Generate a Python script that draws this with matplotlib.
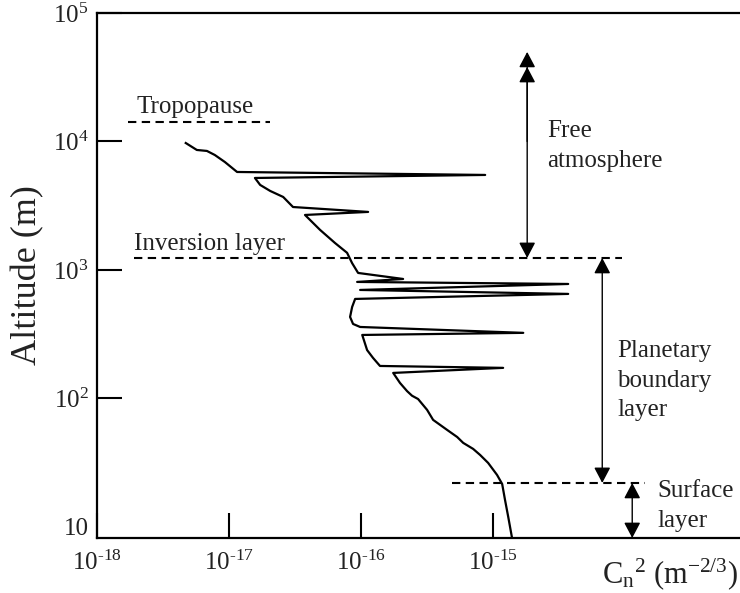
import matplotlib
matplotlib.use("Agg")
import matplotlib.pyplot as plt
from matplotlib.ticker import FixedLocator, NullLocator

plt.rcParams['font.family'] = 'serif'
plt.rcParams['font.serif'] = ['Liberation Serif', 'DejaVu Serif']
plt.rcParams['mathtext.fontset'] = 'custom'
plt.rcParams['mathtext.rm'] = 'Liberation Serif'
plt.rcParams['mathtext.it'] = 'Liberation Serif:italic'

# Cn^2 profile (m^-2/3) against altitude (m), read top to bottom
cn2 = [4.7e-18, 5.7e-18, 6.8e-18, 7.8e-18, 9.3e-18, 1.15e-17, 8.7e-16, 1.57e-17,
       1.72e-17, 2.05e-17, 2.57e-17, 3.05e-17, 1.13e-16, 3.76e-17, 4.89e-17, 6.35e-17,
       7.83e-17, 8.55e-17, 9.49e-17, 2.08e-16, 9.33e-17, 3.7e-15, 9.83e-17, 3.7e-15,
       9.01e-17, 8.55e-17, 8.25e-17, 8.69e-17, 9.83e-17, 1.69e-15, 1.02e-16, 1.11e-16,
       1.23e-16, 1.39e-16, 1.19e-15, 1.75e-16, 1.97e-16, 2.23e-16, 2.43e-16, 2.70e-16,
       3.16e-16, 3.51e-16, 3.97e-16, 4.48e-16, 5.34e-16, 5.93e-16, 7.05e-16, 7.97e-16,
       9.16e-16, 1.07e-15, 1.17e-15, 1.23e-15, 1.30e-15, 1.39e-15]
alt = [9730, 8590, 8440, 7850, 6920, 5790, 5490, 5200,
       4590, 4120, 3700, 3090, 2830, 2680, 2050, 1620,
       1360, 1130, 948, 851, 807, 778, 699, 651,
       595, 515, 431, 380, 360, 324, 312, 238,
       207, 179, 173, 158, 132, 114, 105, 99,
       81.5, 68.1, 62.2, 56.9, 50.1, 45.1, 40.5, 36.3,
       31.5, 25.4, 21.6, 16.2, 12.0, 8.2]

x_ticks = [1e-18, 1e-17, 1e-16, 1e-15]
x_tick_labels = [r'$\mathregular{10^{\text{-}18}}$', r'$\mathregular{10^{\text{-}17}}$',
                 r'$\mathregular{10^{\text{-}16}}$', r'$\mathregular{10^{\text{-}15}}$']
y_ticks = [1e1, 1e2, 1e3, 1e4, 1e5]
y_tick_labels = ['10', r'$\mathregular{10^{2}}$', r'$\mathregular{10^{3}}$',
                 r'$\mathregular{10^{4}}$', r'$\mathregular{10^{5}}$']

# layer boundaries (altitude, x start, x end)
tropopause = (1.42e4, 1.72e-18, 2.05e-17)
inversion = (1.24e3, 1.9e-18, 9.5e-15)
surface = (22.0, 4.9e-16, 1.42e-14)

fig = plt.figure(figsize=(7.4, 5.93), dpi=100)
ax = fig.add_axes([97 / 740, 55 / 593, 643 / 740, 525 / 593])
ax.set_xscale('log')
ax.set_yscale('log')
ax.set_xlim(1e-18, 7.4e-14)
ax.set_ylim(8.2, 1e5)

ax.plot(cn2, alt, color='black', lw=1.6)

for y, x0, x1 in (tropopause, inversion, surface):
    ax.plot([x0, x1], [y, y], color='black', lw=1.5, linestyle=(0, (4, 2.6)))

# arrows marking each layer
head = dict(color='black', lw=1.0, shrinkA=0, shrinkB=0, mutation_scale=10)
ax.annotate('', xy=(1.81e-15, 4.98e4), xytext=(1.81e-15, inversion[0]),
            arrowprops=dict(arrowstyle='<|-|>,head_length=0.95,head_width=0.5', **head))
ax.annotate('', xy=(1.81e-15, 3.8e4), xytext=(1.81e-15, 1e4),
            arrowprops=dict(arrowstyle='-|>,head_length=0.95,head_width=0.5', **head))
ax.annotate('', xy=(6.7e-15, inversion[0]), xytext=(6.7e-15, surface[0]),
            arrowprops=dict(arrowstyle='<|-|>,head_length=0.95,head_width=0.5', **head))
ax.annotate('', xy=(1.13e-14, surface[0]), xytext=(1.13e-14, 8.2),
            arrowprops=dict(arrowstyle='<|-|>,head_length=0.95,head_width=0.5', **head))

txt = dict(fontsize=18, color='#222222', linespacing=1.45)
ax.text(2.0e-18, 1.67e4, 'Tropopause', va='baseline', **txt)
ax.text(1.9e-18, 1.43e3, 'Inversion layer', va='baseline', **txt)
ax.text(2.56e-15, 1.47e4, 'Free\natmosphere', va='top', **txt)
ax.text(8.7e-15, 285, 'Planetary\nboundary\nlayer', va='top', **txt)
ax.text(1.75e-14, 23.2, 'Surface\nlayer', va='top', **txt)

ax.xaxis.set_major_locator(FixedLocator(x_ticks))
ax.xaxis.set_minor_locator(NullLocator())
ax.set_xticklabels(x_tick_labels)
ax.yaxis.set_major_locator(FixedLocator(y_ticks))
ax.yaxis.set_minor_locator(NullLocator())
ax.set_yticklabels(y_tick_labels)
ax.yaxis.get_major_ticks()[0].tick1line.set_visible(False)

ax.tick_params(axis='both', direction='in', length=18, width=1.5,
               labelsize=18, colors='black', labelcolor='#222222')
ax.tick_params(axis='x', pad=9)
ax.tick_params(axis='y', pad=6)

for side in ('left', 'bottom', 'top'):
    ax.spines[side].set_linewidth(1.6)
ax.spines['right'].set_visible(False)

ax.set_ylabel('Altitude (m)', fontsize=26, color='#222222', labelpad=6)
fig.text(738 / 740, 1 - 583 / 593, r'$\mathregular{C_{n}{}^{2}\ (m^{-2/3})}$',
         ha='right', va='baseline', fontsize=22, color='#222222')

fig.savefig('out.png', dpi=100)
